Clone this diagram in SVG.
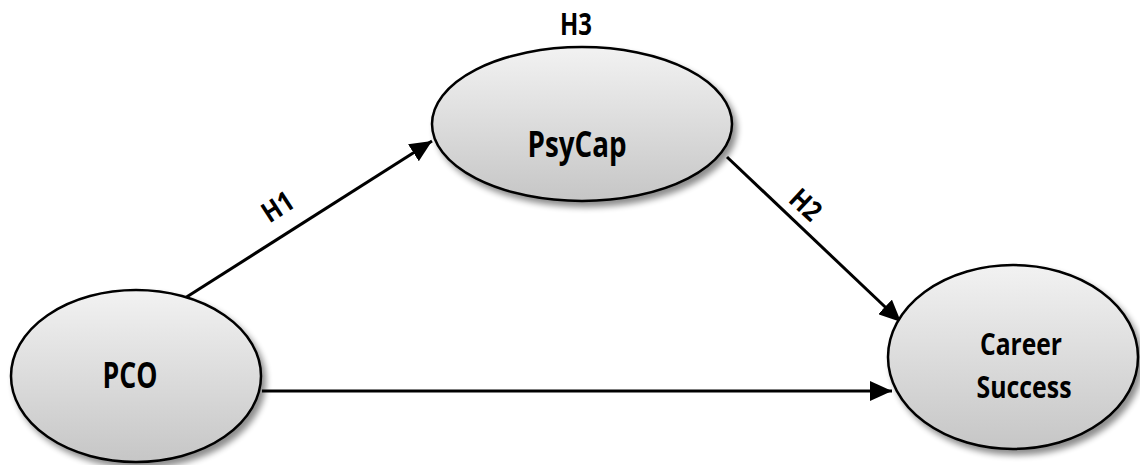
<svg xmlns="http://www.w3.org/2000/svg" width="1140" height="465" viewBox="0 0 1140 465">
<defs>
<linearGradient id="g" x1="0" y1="0" x2="0" y2="1">
<stop offset="0" stop-color="#f2f2f2"/>
<stop offset="1" stop-color="#c6c6c6"/>
</linearGradient>
<filter id="sh" x="-20%" y="-20%" width="150%" height="150%">
<feGaussianBlur in="SourceAlpha" stdDeviation="3"/>
<feOffset dx="4" dy="5" result="b"/>
<feComponentTransfer><feFuncA type="linear" slope="0.45"/></feComponentTransfer>
<feMerge><feMergeNode/><feMergeNode in="SourceGraphic"/></feMerge>
</filter>
<marker id="a" viewBox="0 0 22 20" refX="22" refY="10" markerWidth="22" markerHeight="20" orient="auto" markerUnits="userSpaceOnUse">
<path d="M0,0 L22,10 L0,20 z" fill="#000"/>
</marker>
</defs>
<style>
.node{fill:url(#g);stroke:#000;stroke-width:2.5;filter:url(#sh)}
.t{font-family:"Open Sans","Liberation Sans",sans-serif;font-weight:bold;fill:#000;text-anchor:middle}
.c{stroke:#000;stroke-width:3;fill:none;marker-end:url(#a)}
</style>
<g id="connectors">
<line class="c" x1="185" y1="298" x2="432" y2="141"/>
<line class="c" x1="727" y1="157" x2="901" y2="322"/>
<line class="c" x1="262" y1="391" x2="892" y2="391"/>
<text class="t" font-size="28" transform="translate(283,215) rotate(-33)" textLength="32" lengthAdjust="spacingAndGlyphs">H1</text>
<text class="t" font-size="28" transform="translate(799,212) rotate(43)" textLength="32" lengthAdjust="spacingAndGlyphs">H2</text>
</g>
<g id="pco">
<ellipse class="node" cx="136" cy="376" rx="125" ry="86"/>
<text class="t" x="130" y="388" font-size="36" textLength="55" lengthAdjust="spacingAndGlyphs">PCO</text>
</g>
<g id="psycap">
<ellipse class="node" cx="582" cy="124" rx="150" ry="77"/>
<text class="t" x="577" y="157" font-size="35" textLength="99" lengthAdjust="spacingAndGlyphs">PsyCap</text>
<text class="t" x="576" y="35" font-size="31" textLength="32" lengthAdjust="spacingAndGlyphs">H3</text>
</g>
<g id="career">
<ellipse class="node" cx="1013" cy="357" rx="125" ry="92"/>
<text class="t" x="1021" y="355" font-size="31" textLength="82" lengthAdjust="spacingAndGlyphs">Career</text>
<text class="t" x="1024" y="398" font-size="31" textLength="95" lengthAdjust="spacingAndGlyphs">Success</text>
</g>
</svg>
